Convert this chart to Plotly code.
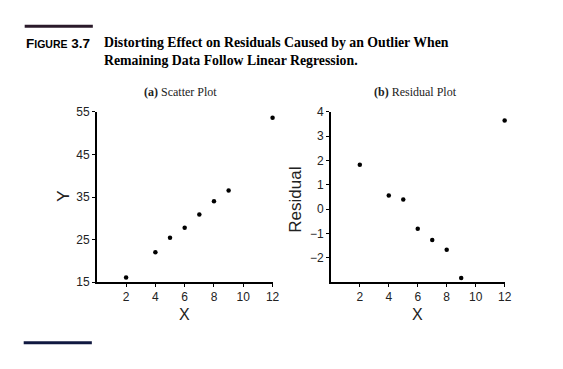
import plotly.graph_objects as go

# ---- data ----
x_vals = [2, 4, 5, 6, 7, 8, 9, 12]
y_vals = [16.1, 22.0, 25.4, 27.8, 30.9, 34.0, 36.5, 53.6]
residuals = [1.83, 0.56, 0.40, -0.80, -1.27, -1.67, -2.83, 3.64]

x_ticks = [2, 4, 6, 8, 10, 12]
y_ticks_a = [15, 25, 35, 45, 55]
y_ticks_b = [-2, -1, 0, 1, 2, 3, 4]

W, H = 563, 369
def px(x):
    return x / W
def py(y):
    return 1 - y / H

fig = go.Figure()
fig.add_trace(go.Scatter(x=x_vals, y=y_vals, mode="markers", cliponaxis=False,
                         marker=dict(color="black", size=4.5),
                         xaxis="x", yaxis="y", showlegend=False))
fig.add_trace(go.Scatter(x=x_vals, y=residuals, mode="markers", cliponaxis=False,
                         marker=dict(color="black", size=4.5),
                         xaxis="x2", yaxis="y2", showlegend=False))

tickfont = dict(family="Liberation Sans, Arial, sans-serif", size=12, color="#222")
axis_common = dict(showgrid=False, zeroline=False, showline=True, linecolor="black",
                   linewidth=1.5, ticks="outside", ticklen=3, tickwidth=1,
                   tickcolor="black", tickfont=tickfont)

fig.update_layout(
    width=W, height=H, margin=dict(l=0, r=0, t=0, b=0),
    paper_bgcolor="white", plot_bgcolor="white",
    xaxis=dict(domain=[px(98), px(276)], range=[0, 12], tickvals=x_ticks,
               anchor="y", **axis_common),
    yaxis=dict(domain=[py(286), py(109)], range=[15, 55], tickvals=y_ticks_a,
               anchor="x", **axis_common),
    xaxis2=dict(domain=[px(335), px(511)], range=[0, 12], tickvals=x_ticks,
                anchor="y2", **axis_common),
    yaxis2=dict(domain=[py(286), py(109)], range=[-3, 4], tickvals=y_ticks_b,
                anchor="x2", **axis_common),
)

sans = "Liberation Sans, Arial, sans-serif"
serif = "Liberation Serif, Times New Roman, serif"

ann = []
ann.append(dict(x=px(24), y=py(38), xref="paper", yref="paper", xanchor="left",
                yanchor="middle", showarrow=False,
                text="<b>F<span style='font-size:10.5px'>IGURE</span> 3.7</b>",
                font=dict(family=sans, size=13.5, color="black")))
ann.append(dict(x=px(103), y=py(37), xref="paper", yref="paper", xanchor="left",
                yanchor="middle", showarrow=False,
                text="<b>Distorting Effect on Residuals Caused by an Outlier When</b>",
                font=dict(family=serif, size=13.8, color="black")))
ann.append(dict(x=px(103), y=py(56), xref="paper", yref="paper", xanchor="left",
                yanchor="middle", showarrow=False,
                text="<b>Remaining Data Follow Linear Regression.</b>",
                font=dict(family=serif, size=13.8, color="black")))
ann.append(dict(x=px(183), y=py(88), xref="paper", yref="paper", xanchor="center",
                yanchor="middle", showarrow=False,
                text="<b>(a)</b> Scatter Plot",
                font=dict(family=serif, size=12, color="#222")))
ann.append(dict(x=px(421), y=py(88), xref="paper", yref="paper", xanchor="center",
                yanchor="middle", showarrow=False,
                text="<b>(b)</b> Residual Plot",
                font=dict(family=serif, size=12, color="#222")))
ann.append(dict(x=px(187), y=py(320), xref="paper", yref="paper", xanchor="center",
                yanchor="middle", showarrow=False, text="X",
                font=dict(family=sans, size=16, color="#222")))
ann.append(dict(x=px(423), y=py(320), xref="paper", yref="paper", xanchor="center",
                yanchor="middle", showarrow=False, text="X",
                font=dict(family=sans, size=16, color="#222")))
ann.append(dict(x=px(64), y=py(197), xref="paper", yref="paper", xanchor="center",
                yanchor="middle", showarrow=False, text="Y", textangle=-90,
                font=dict(family=sans, size=17, color="#222")))
ann.append(dict(x=px(299), y=py(200), xref="paper", yref="paper", xanchor="center",
                yanchor="middle", showarrow=False, text="Residual", textangle=-90,
                font=dict(family=sans, size=17, color="#222")))
fig.update_layout(annotations=ann)

fig.add_shape(type="line", xref="paper", yref="paper", x0=px(25), x1=px(94),
              y0=py(20), y1=py(20), line=dict(color="#2a1a2a", width=3))
fig.add_shape(type="line", xref="paper", yref="paper", x0=px(24), x1=px(93),
              y0=py(349), y1=py(349), line=dict(color="#101840", width=3))

fig.write_html("out.html", config={"displayModeBar": False},
               post_script="document.body.style.margin='0';document.body.style.overflow='hidden';")
